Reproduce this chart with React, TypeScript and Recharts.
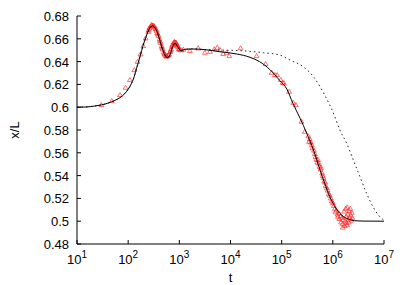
import React from 'react';
import { ComposedChart, Line, Scatter, XAxis, YAxis, Label } from 'recharts';

const X_TICKS = [1e1, 1e2, 1e3, 1e4, 1e5, 1e6, 1e7];
const Y_TICKS = [0.48, 0.5, 0.52, 0.54, 0.56, 0.58, 0.6, 0.62, 0.64, 0.66, 0.68];

const solidT = [10, 15, 22, 30, 40, 55, 70, 85, 100, 115, 126, 146, 170, 197, 230, 267, 296, 334, 387, 451, 523, 581, 655, 739, 820, 926, 1075, 1286, 1738, 3162, 6166, 13183, 23988, 37154, 58884, 91201, 125893, 165959, 229087, 309030, 416869, 562341, 691831, 870964, 1096478, 1479108, 1995262, 2691535, 3890451, 10000000];
const solidV = [0.6, 0.6002, 0.601, 0.602, 0.6035, 0.606, 0.6085, 0.6118, 0.6157, 0.6205, 0.6245, 0.6341, 0.6443, 0.6546, 0.6633, 0.6697, 0.6715, 0.6697, 0.6633, 0.6531, 0.6458, 0.6434, 0.6458, 0.6531, 0.6561, 0.6531, 0.6496, 0.6508, 0.6511, 0.6505, 0.6487, 0.6467, 0.6438, 0.6399, 0.633, 0.6235, 0.616, 0.6034, 0.5903, 0.5771, 0.5625, 0.5449, 0.5333, 0.5215, 0.5127, 0.5054, 0.5019, 0.5004, 0.5001, 0.5];

const dottedT = [10, 15, 22, 30, 40, 55, 70, 85, 100, 115, 126, 146, 170, 197, 230, 267, 296, 334, 387, 451, 523, 581, 655, 739, 820, 926, 1075, 1286, 1738, 3162, 15136, 43652, 91201, 144544, 263027, 416869, 562341, 691831, 870964, 1000000, 1371374, 1862087, 2511886, 3388442, 4570882, 6165950, 7762471, 9332543, 10000000];
const dottedV = [0.6, 0.6002, 0.601, 0.602, 0.6035, 0.606, 0.6085, 0.6118, 0.6157, 0.6205, 0.6245, 0.6341, 0.6443, 0.6546, 0.6633, 0.6697, 0.6715, 0.6697, 0.6633, 0.6531, 0.6458, 0.6434, 0.6458, 0.6531, 0.6561, 0.6531, 0.6496, 0.6508, 0.6511, 0.6505, 0.6496, 0.6478, 0.6458, 0.6414, 0.6355, 0.6268, 0.618, 0.6107, 0.6019, 0.596, 0.58, 0.5683, 0.5537, 0.539, 0.5244, 0.5122, 0.5054, 0.5019, 0.501];

const triT = [
  30, 48, 69, 89, 108, 132, 153, 175, 197, 220, 247,
  250, 260, 265, 280, 287, 295, 310, 318, 325, 340, 348, 355, 370, 380, 390, 410, 420, 430, 450, 460, 470, 495, 510, 520, 545, 560, 570, 600, 615, 630, 660, 675, 690, 720, 735, 750, 780, 795, 810, 840, 855, 870, 900, 920, 940, 980, 1000, 1030, 1090, 1200,
  1611, 2339, 3162, 3963, 4808, 5500, 6209, 7200, 8390, 9440, 15750, 32360, 48530, 63530, 73620, 81660, 96400, 104200, 110400, 140000, 167900, 189300, 244700, 284000, 344300,
  331000, 354800, 371500, 389000, 398000, 426600, 446700, 457000, 478600, 501000, 513000, 537000, 550000, 575000, 589000, 616600, 631000, 660700, 676000, 708000, 724400, 758600, 794300, 831800, 871000, 912000, 955000, 1000000, 1047000, 1096000, 1122000, 1175000, 1230000, 1259000, 1318000, 1349000, 1413000, 1445000, 1514000, 1549000, 1585000, 1660000, 1698000, 1738000, 1778000, 1820000, 1862000, 1905000, 1950000, 1995000, 2042000, 2089000, 2138000, 2188000, 2239000, 2291000, 2344000, 2399000, 1560000, 1900000
];
const triV = [
  0.6019, 0.6054, 0.6107, 0.6171, 0.6239, 0.6326, 0.6399, 0.6464, 0.6537, 0.6604, 0.6662,
  0.6675, 0.669, 0.67, 0.6712, 0.6722, 0.6718, 0.6714, 0.6712, 0.6705, 0.669, 0.6685, 0.6672, 0.665, 0.664, 0.6625, 0.6595, 0.658, 0.6565, 0.6535, 0.6522, 0.6508, 0.648, 0.647, 0.6462, 0.645, 0.6445, 0.6447, 0.6452, 0.6458, 0.6465, 0.6485, 0.6498, 0.651, 0.6535, 0.6545, 0.6552, 0.6565, 0.6572, 0.657, 0.6568, 0.6567, 0.656, 0.6545, 0.654, 0.6528, 0.6512, 0.6508, 0.6503, 0.65, 0.6505,
  0.6493, 0.6517, 0.6478, 0.6487, 0.6508, 0.6522, 0.6502, 0.6467, 0.6478, 0.6449, 0.6517, 0.6449, 0.6379, 0.6303, 0.6282, 0.6282, 0.6239, 0.6215, 0.621, 0.6136, 0.6039, 0.6019, 0.5873, 0.5785, 0.5697,
  0.5745, 0.572, 0.569, 0.5668, 0.564, 0.562, 0.559, 0.5565, 0.554, 0.5515, 0.5538, 0.5505, 0.5478, 0.5455, 0.547, 0.542, 0.5398, 0.538, 0.535, 0.534, 0.531, 0.529, 0.527, 0.524, 0.5225, 0.52, 0.5175, 0.516, 0.5135, 0.511, 0.508, 0.5095, 0.506, 0.504, 0.507, 0.502, 0.5045, 0.499, 0.503, 0.4975, 0.501, 0.5085, 0.496, 0.5, 0.511, 0.504, 0.4985, 0.512, 0.506, 0.5015, 0.499, 0.509, 0.503, 0.511, 0.505, 0.5005, 0.5075, 0.503, 0.4945, 0.4965
];

const solid = solidT.map((t, i) => ({ t, v: solidV[i] }));
const dotted = dottedT.map((t, i) => ({ t, v: dottedV[i] }));
const tri = triT.map((t, i) => ({ t, v: triV[i] }));

const FONT = '"Liberation Sans", Arial, Helvetica, sans-serif';
const AXIS = '#000';

const XTickBottom = (props: any) => {
  const { x, y, payload } = props;
  const exp = Math.round(Math.log10(payload.value));
  return (
    <g>
      <line x1={x} y1={y} x2={x} y2={y - 4} stroke={AXIS} strokeWidth={1} />
      <text x={x} y={y + 20} textAnchor="middle" fontFamily={FONT} fontSize={13} fill="#000">
        10<tspan dy={-6} fontSize={10}>{exp}</tspan>
      </text>
    </g>
  );
};

const XTickTop = (props: any) => {
  const { x, y } = props;
  return <line x1={x} y1={y} x2={x} y2={y + 4} stroke={AXIS} strokeWidth={1} />;
};

const YTickLeft = (props: any) => {
  const { x, y, payload } = props;
  return (
    <g>
      <line x1={x} y1={y} x2={x + 4} y2={y} stroke={AXIS} strokeWidth={1} />
      <text x={x - 8} y={y + 5} textAnchor="end" fontFamily={FONT} fontSize={13} fill="#000">
        {String(payload.value)}
      </text>
    </g>
  );
};

const YTickRight = (props: any) => {
  const { x, y } = props;
  return <line x1={x} y1={y} x2={x - 4} y2={y} stroke={AXIS} strokeWidth={1} />;
};

const Tri = (props: any) => {
  const { cx, cy } = props;
  if (cx == null || cy == null) return null;
  return (
    <path
      d={`M${cx},${cy - 2.5} L${cx + 2.4},${cy + 1.6} L${cx - 2.4},${cy + 1.6} Z`}
      fill="none"
      stroke="#ff2020"
      strokeWidth={0.65}
    />
  );
};

export default function App() {
  return (
    <div style={{ position: 'absolute', left: 0, top: 0, background: '#fff' }}>
      <ComposedChart width={407} height={285} margin={{ top: 16, right: 23, bottom: 0, left: 0 }}>
        <XAxis
          xAxisId="b"
          type="number"
          dataKey="t"
          scale="log"
          domain={[10, 1e7]}
          allowDataOverflow
          ticks={X_TICKS}
          interval={0}
          tickSize={0}
          tickMargin={0}
          tickLine={false}
          axisLine={{ stroke: AXIS }}
          height={41}
          tick={<XTickBottom />}
        >
          <Label
            content={(p: any) => {
              const vb = p.viewBox || { x: 77, y: 244, width: 307 };
              return (
                <text x={vb.x + vb.width / 2} y={vb.y + 37.5} textAnchor="middle" fontFamily={FONT} fontSize={13} fill="#000">
                  t
                </text>
              );
            }}
          />
        </XAxis>
        <XAxis
          xAxisId="top"
          orientation="top"
          type="number"
          dataKey="t"
          scale="log"
          domain={[10, 1e7]}
          allowDataOverflow
          ticks={X_TICKS}
          interval={0}
          tickSize={0}
          tickMargin={0}
          tickLine={false}
          axisLine={{ stroke: AXIS }}
          height={0}
          tick={<XTickTop />}
        />
        <YAxis
          yAxisId="l"
          type="number"
          domain={[0.48, 0.68]}
          allowDataOverflow
          ticks={Y_TICKS}
          interval={0}
          tickSize={0}
          tickMargin={0}
          tickLine={false}
          axisLine={{ stroke: AXIS }}
          width={77}
          tick={<YTickLeft />}
        >
          <Label
            content={(p: any) => {
              const vb = p.viewBox || { x: 0, y: 16, height: 228 };
              const cy = vb.y + vb.height / 2;
              return (
                <text transform={`rotate(-90)`} x={-cy} y={19} textAnchor="middle" fontFamily={FONT} fontSize={13} fill="#000">
                  x/L
                </text>
              );
            }}
          />
        </YAxis>
        <YAxis
          yAxisId="r"
          orientation="right"
          type="number"
          domain={[0.48, 0.68]}
          allowDataOverflow
          ticks={Y_TICKS}
          interval={0}
          tickSize={0}
          tickMargin={0}
          tickLine={false}
          axisLine={{ stroke: AXIS }}
          width={0}
          tick={<YTickRight />}
        />
        <Scatter xAxisId="b" yAxisId="l" data={tri} dataKey="v" shape={<Tri />} isAnimationActive={false} />
        <Line
          xAxisId="b"
          yAxisId="l"
          data={dotted}
          dataKey="v"
          type="monotone"
          dot={false}
          activeDot={false}
          stroke="#222"
          strokeWidth={1}
          strokeDasharray="1.5 3"
          isAnimationActive={false}
          zIndex={700}
        />
        <Line
          xAxisId="b"
          yAxisId="l"
          data={solid}
          dataKey="v"
          type="monotone"
          dot={false}
          activeDot={false}
          stroke="#000"
          strokeWidth={1}
          isAnimationActive={false}
          zIndex={710}
        />
      </ComposedChart>
    </div>
  );
}
